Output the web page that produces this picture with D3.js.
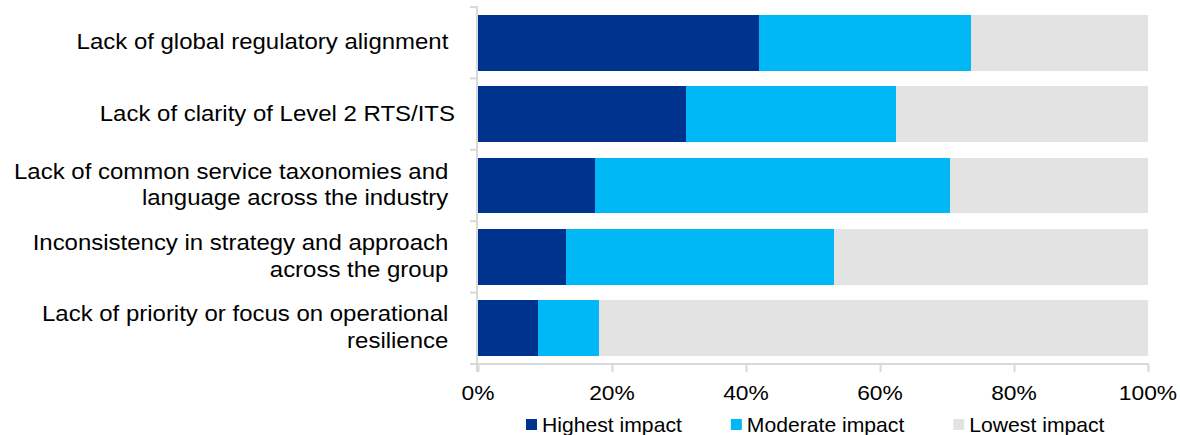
<!DOCTYPE html>
<html>
<head>
<meta charset="utf-8">
<script src="https://cdn.jsdelivr.net/npm/d3@7/dist/d3.min.js"></script>
<style>
  html, body { margin: 0; padding: 0; background: #fff; }
  svg { display: block; font-family: "Liberation Sans", Arial, sans-serif; }
  text { white-space: pre; fill: #000; }
</style>
</head>
<body>
<svg id="chart" width="1180" height="435"></svg>
<script>
// Survey categories (top to bottom); "\n" marks a line break in the label
const categories = [
  "Lack of global regulatory alignment\u00A0",
  "Lack of clarity of Level 2 RTS/ITS",
  "Lack of common service taxonomies and\u00A0\nlanguage across the industry\u00A0",
  "Inconsistency in strategy and approach\u00A0\nacross the group\u00A0",
  "Lack of priority or focus on operational\u00A0\nresilience\u00A0"
];

// Share of respondents (%) per impact level
const highestImpact  = [41.9, 31.0, 17.5, 13.1, 9.0];
const moderateImpact = [31.7, 31.4, 52.9, 40.0, 9.1];
const lowestImpact   = [26.4, 37.6, 29.6, 46.9, 81.9];

const seriesNames = ["Highest impact", "Moderate impact", "Lowest impact"];
const seriesColors = ["#00338D", "#00B8F5", "#E3E3E3"];
const tickValues = [0, 20, 40, 60, 80, 100];

const axisColor = "#D9D9D9";
const svg = d3.select("#chart");

const x = d3.scaleLinear().domain([0, 100]).range([478, 1148]);
const y = d3.scaleBand().domain(d3.range(categories.length))
  .range([7, 364]).paddingInner(0.216).paddingOuter(0.11);

const rows = categories.map((c, i) => ({
  i,
  "Highest impact": highestImpact[i],
  "Moderate impact": moderateImpact[i],
  "Lowest impact": lowestImpact[i]
}));
const stacked = d3.stack().keys(seriesNames)(rows);

// stacked bars
svg.append("g").attr("shape-rendering", "crispEdges")
  .selectAll("g").data(stacked).join("g")
  .attr("fill", (d, k) => seriesColors[k])
  .selectAll("rect").data(d => d).join("rect")
  .attr("x", d => x(d[0]))
  .attr("width", d => x(d[1]) - x(d[0]))
  .attr("y", d => y(d.data.i))
  .attr("height", y.bandwidth());

// value axis (bottom)
const xAxis = d3.axisBottom(x).tickValues(tickValues).tickSize(8).tickFormat(() => "");
const gx = svg.append("g").attr("transform", "translate(0,364)").call(xAxis);
gx.select(".domain").remove();
gx.selectAll(".tick line").attr("stroke", axisColor).attr("stroke-width", 2);
gx.append("line").attr("x1", 470).attr("x2", x(100) + 1)
  .attr("stroke", axisColor).attr("stroke-width", 2);

svg.append("g").selectAll("text").data(tickValues).join("text")
  .attr("transform", d => `translate(${x(d)},400) scale(1.14,1)`)
  .attr("text-anchor", "middle")
  .attr("font-size", 20)
  .text(d => d + "%");

// category axis (left), with ticks between the bands
const [y0, y1] = y.range();
const gy = svg.append("g");
gy.append("line").attr("x1", 477).attr("x2", 477).attr("y1", y0 - 1).attr("y2", y1 + 8)
  .attr("stroke", axisColor).attr("stroke-width", 2);
gy.selectAll("line.tk").data(d3.range(categories.length + 1)).join("line")
  .attr("class", "tk")
  .attr("x1", 470).attr("x2", 477)
  .attr("y1", i => y0 + i * (y1 - y0) / categories.length)
  .attr("y2", i => y0 + i * (y1 - y0) / categories.length)
  .attr("stroke", axisColor).attr("stroke-width", 2);

const lineH = 26.5;
categories.forEach((c, i) => {
  const lines = c.split("\n");
  const cy = y(i) + y.bandwidth() / 2 + 6.5;
  lines.forEach((ln, j) => {
    const by = cy + (j - (lines.length - 1) / 2) * lineH;
    svg.append("text")
      .attr("transform", `translate(455,${by}) scale(1.09,1)`)
      .attr("text-anchor", "end")
      .attr("font-size", 22)
      .text(ln);
  });
});

// legend
const legend = svg.append("g");
let lx = 526;
seriesNames.forEach((name, k) => {
  legend.append("rect").attr("x", lx).attr("y", 419).attr("width", 11).attr("height", 11)
    .attr("fill", seriesColors[k]);
  const t = legend.append("text")
    .attr("transform", `translate(${lx + 16},431.5) scale(1.08,1)`)
    .attr("font-size", 19.6)
    .text(name);
  lx += 16 + t.node().getComputedTextLength() * 1.08 + 49;
});
</script>
</body>
</html>
